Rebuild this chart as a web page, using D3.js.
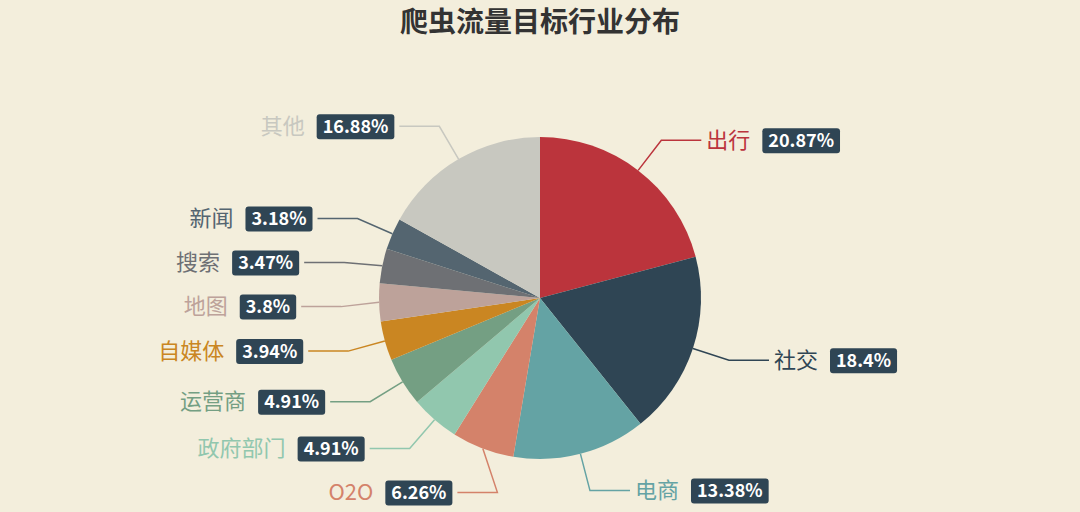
<!DOCTYPE html>
<html><head><meta charset="utf-8">
<script src="https://cdn.jsdelivr.net/npm/d3@7"></script>
<style>body{margin:0;background:#f3eedc;}svg{display:block;font-family:"Noto Sans CJK SC","Noto Sans",sans-serif;}</style>
</head><body><svg width="1080" height="512"></svg>
<script>
const categories=["出行","社交","电商","O2O","政府部门","运营商","自媒体","地图","搜索","新闻","其他"];
const values=[20.87,18.4,13.38,6.26,4.91,4.91,3.94,3.8,3.47,3.18,16.88];
const labels=["20.87%","18.4%","13.38%","6.26%","4.91%","4.91%","3.94%","3.8%","3.47%","3.18%","16.88%"];
const colors=["#bb343c","#2f4554","#64a3a4","#d4826a","#91c7ae","#749f83","#ca8622","#bda29a","#6e7074","#546570","#c8c8c0"];
const svg=d3.select("svg");
const W=1080,cx=540,cy=298,r=161,len=38,len2=40;
svg.append("rect").attr("width",W).attr("height",512).attr("fill","#f3eedc");
svg.append("text").attr("x",cx).attr("y",32).attr("text-anchor","middle").attr("font-size",28).attr("font-weight","bold").attr("fill","#333").text("爬虫流量目标行业分布");
const data=categories.map((c,i)=>({c,v:values[i],l:labels[i],col:colors[i]}));
const pie=d3.pie().sort(null).value(d=>d.v);
const arcs=pie(data);
const arc=d3.arc().innerRadius(0).outerRadius(r);
const g=svg.append("g").attr("transform",`translate(${cx},${cy})`);
g.selectAll("path").data(arcs).join("path").attr("d",arc).attr("fill",d=>d.data.col).attr("stroke","none");
const R=r+len;
arcs.forEach(a=>{a.mid=(a.startAngle+a.endAngle)/2;a.px=Math.sin(a.mid)*R;a.py=-Math.cos(a.mid)*R;a.right=a.px>=0;});
const left=arcs.filter(a=>!a.right).sort((a,b)=>a.py-b.py);
for(let i=1;i<left.length;i++){if(left[i].py-left[i-1].py<44)left[i].py=left[i-1].py+44;}
left.forEach(a=>{const dy=Math.min(Math.abs(a.py),R-1);a.px=-Math.sqrt(R*R-dy*dy);});
arcs.forEach(a=>{
 const sx=Math.sin(a.mid)*r,sy=-Math.cos(a.mid)*r;
 const ex=a.px+(a.right?len2:-len2);
 g.append("polyline").attr("points",`${sx},${sy} ${a.px},${a.py} ${ex},${a.py}`).attr("fill","none").attr("stroke",a.data.col).attr("stroke-width",1.5);
 const lg=g.append("g");
 const t1=lg.append("text").attr("font-size",22).attr("fill",a.data.col).attr("y",a.py+7.5).text(a.data.c);
 const t2=lg.append("text").attr("font-size",18).attr("font-weight","bold").attr("fill","#fff").attr("y",a.py+6.5).text(a.data.l);
 const w1=t1.node().getComputedTextLength(),w2=t2.node().getComputedTextLength();
 let x0=a.right?ex+5:ex-5-(w1+12+w2+12);
 t1.attr("x",x0);
 const bx=x0+w1+12;
 lg.insert("rect","text:last-child").attr("x",bx).attr("y",a.py-12).attr("width",w2+12).attr("height",25).attr("rx",3).attr("fill","#2f4554");
 t2.attr("x",bx+6).raise();
});
</script></body></html>
